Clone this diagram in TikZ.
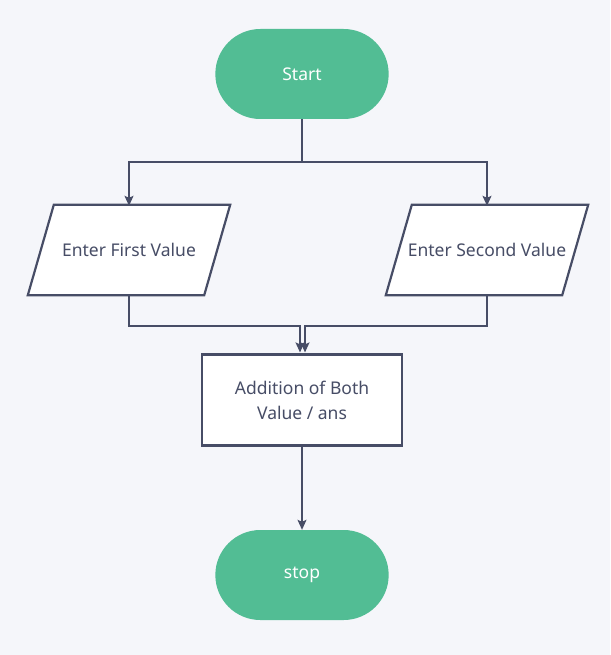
\documentclass[tikz,border=0pt]{standalone}
\usepackage{fontspec}
\setmainfont{Noto Sans}
\usetikzlibrary{shapes.misc,arrows.meta,backgrounds,calc}
\definecolor{bg}{HTML}{F5F6FA}
\definecolor{term}{HTML}{52BD94}
\definecolor{edge}{HTML}{474D66}
\definecolor{txt}{HTML}{474D66}
\tikzset{
  mainfont/.style={font=\fontsize{17.5}{25}\selectfont},
  termbox/.style={draw=none,fill=term,rounded rectangle,minimum width=180pt,minimum height=90pt,text=white,mainfont},
  iobox/.style={draw=none,rectangle,minimum width=176pt,minimum height=90pt,text=txt,mainfont},
  ioshape/.style={draw=edge,line width=2.2pt,fill=white,line join=miter},
  procbox/.style={draw=edge,line width=2.2pt,fill=white,rectangle,minimum width=200pt,minimum height=91pt,text=txt,align=center,mainfont},
  conn/.style={draw=edge,line width=1.3pt,-{Stealth[length=10pt,width=9pt,inset=2pt]}},
  plain/.style={draw=edge,line width=1.3pt}
}
\begin{document}
\begin{tikzpicture}[x=1pt,y=-1pt]
\useasboundingbox (0,0) rectangle (610,655);
\node[termbox] (start) at (302,74) {Start};
\node[iobox] (in1) at (129,250) {Enter First Value};
\node[iobox] (in2) at (487,250) {Enter Second Value};
\node[procbox] (proc) at (302,400) {Addition of Both\\Value / ans};
\node[termbox] (stop) at (302,575) {stop};
\begin{scope}[on background layer]
\fill[bg] (0,0) rectangle (610,655);
\foreach \n in {in1,in2}{
  \draw[ioshape] ([xshift=13pt]\n.north west) -- ([xshift=13pt]\n.north east)
    -- ([xshift=-13pt]\n.south east) -- ([xshift=-13pt]\n.south west) -- cycle;
}
\end{scope}
\coordinate (split) at (302,162);
\coordinate (j1) at (300,326);
\coordinate (j2) at (305,326);
\draw[plain] (start.south) -- (split);
\draw[conn] (split) -| ([yshift=-1pt]in1.north);
\draw[conn] (split) -| ([yshift=-1pt]in2.north);
\draw[conn] (in1.south) |- (j1) -- ([yshift=1pt]j1 |- proc.north);
\draw[conn] (in2.south) |- (j2) -- ([yshift=1pt]j2 |- proc.north);
\draw[conn] (proc.south) -- (stop.north);
\end{tikzpicture}
\end{document}
